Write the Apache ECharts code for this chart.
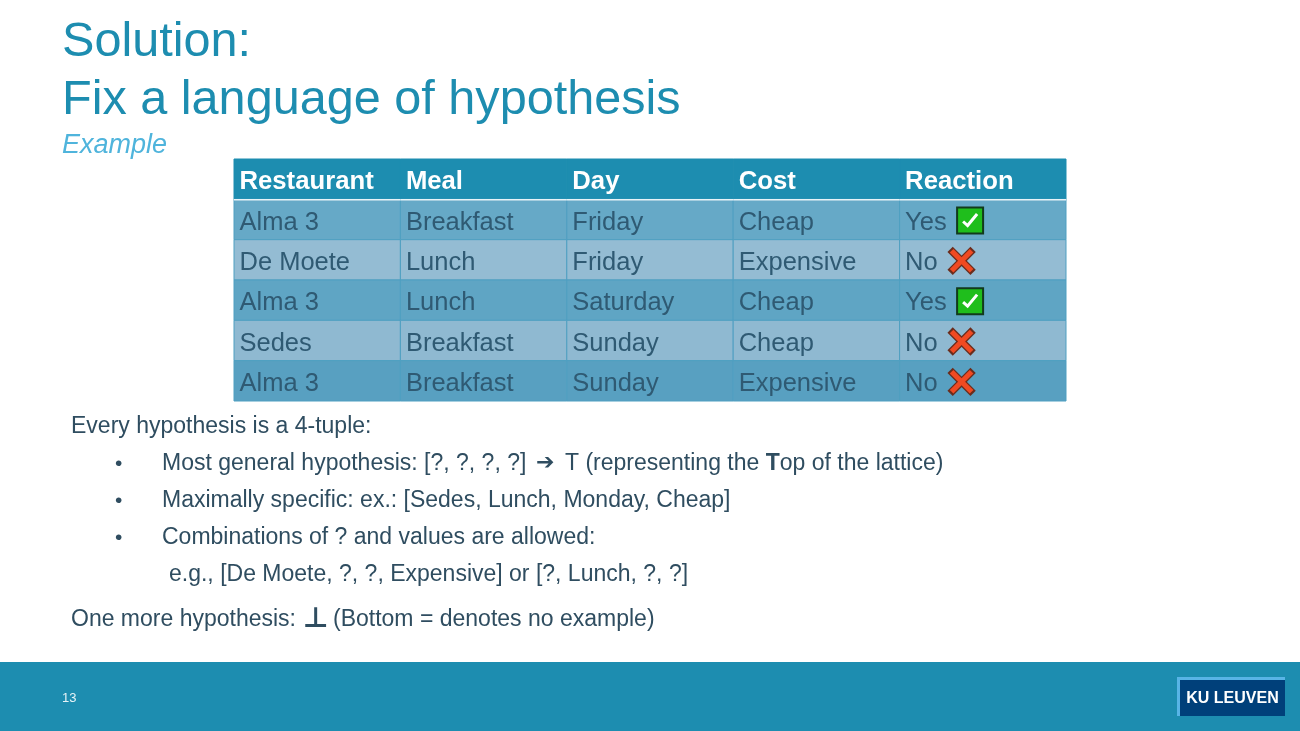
<!DOCTYPE html>
<html>
<head>
<meta charset="utf-8">
<style>
html, body { margin: 0; padding: 0; background: #fff; }
#chart { width: 1300px; height: 731px; }
</style>
<script src="https://cdn.jsdelivr.net/npm/echarts@6/dist/echarts.min.js"></script>
</head>
<body>
<div id="chart"></div>
<script>
const columns = ['Restaurant', 'Meal', 'Day', 'Cost', 'Reaction']
const restaurants = ['Alma 3', 'De Moete', 'Alma 3', 'Sedes', 'Alma 3']
const meals = ['Breakfast', 'Lunch', 'Lunch', 'Breakfast', 'Breakfast']
const days = ['Friday', 'Friday', 'Saturday', 'Sunday', 'Sunday']
const costs = ['Cheap', 'Expensive', 'Cheap', 'Cheap', 'Expensive']
const reactions = ['Yes', 'No', 'Yes', 'No', 'No']

const FONT = '"Liberation Sans", Arial, sans-serif'
const TEXT = '#2f4d60'
const CELL_TEXT = '#2f5a73'
const BAND = '#1d8db0'
const BODY = 23
const rowFills = ['#1d8db0', '#66a9c7', '#94bcd3', '#5fa5c4', '#8fb9d1', '#58a0c1']

const rowNames = ['header', 'r1', 'r2', 'r3', 'r4', 'r5']
const cells = []
columns.forEach((c, x) => { cells.push([x, 0, c]) })
;[restaurants, meals, days, costs, reactions].forEach((list, x) => {
  list.forEach((v, i) => { cells.push([x, i + 1, v]) })
})

function renderCell (params, api) {
  const x = api.value(0)
  const y = api.value(1)
  const val = api.value(2)
  const c = api.coord([x, y])
  const s = api.size([1, 1])
  const left = c[0] - s[0] / 2
  const top = c[1] - s[1] / 2
  const kids = [{
    type: 'rect',
    shape: { x: left, y: top, width: s[0], height: s[1] },
    style: { fill: rowFills[y], stroke: y === 0 ? '#1d8db0' : '#4f9fc1', lineWidth: 1 }
  }, {
    type: 'text',
    style: {
      x: left + 5.5,
      y: c[1] + (y === 0 ? 3 : 3),
      text: val,
      fill: y === 0 ? '#fff' : CELL_TEXT,
      font: (y === 0 ? 'bold ' : '') + (y === 0 ? '25.7px ' : '25.5px ') + FONT,
      verticalAlign: 'middle'
    }
  }]
  if (y === 1) {
    kids.push({
      type: 'line',
      shape: { x1: left, y1: top + 0.5, x2: left + s[0], y2: top + 0.5 },
      style: { stroke: '#e8f3f7', lineWidth: 1.5 },
      z2: 5
    })
  }
  if (x === 4 && y > 0) {
    const cy = c[1] + 1
    if (val === 'Yes') {
      const bx = left + 57.5
      kids.push({
        type: 'rect',
        shape: { x: bx, y: cy - 13, width: 26, height: 26 },
        style: { fill: '#1fbe1c', stroke: '#123a1c', lineWidth: 2 },
        z2: 6
      }, {
        type: 'polyline',
        shape: { points: [[bx + 6, cy + 1], [bx + 10.5, cy + 5], [bx + 20, cy - 6.5]] },
        style: { stroke: '#fff', lineWidth: 3, fill: 'none' },
        z2: 7
      })
    } else {
      const cx = left + 62
      ;[['#6b2c1c', 7.5, 6, 11.5], ['#f04a22', 5, 7, 10]].forEach(p => {
        kids.push({
          type: 'line',
          shape: { x1: cx - p[3], y1: cy - p[3], x2: cx + p[3], y2: cy + p[3] },
          style: { stroke: p[0], lineWidth: p[1] },
          z2: p[2]
        }, {
          type: 'line',
          shape: { x1: cx + p[3], y1: cy - p[3], x2: cx - p[3], y2: cy + p[3] },
          style: { stroke: p[0], lineWidth: p[1] },
          z2: p[2]
        })
      })
    }
  }
  return { type: 'group', children: kids }
}

function label (x, y, text, size, extra) {
  return {
    type: 'text',
    x: x,
    y: y,
    silent: true,
    style: Object.assign({
      text: text,
      fill: TEXT,
      font: size + 'px ' + FONT,
      verticalAlign: 'middle'
    }, extra || {})
  }
}

const slideText = [
  { type: 'rect', shape: { x: 0, y: 662, width: 1300, height: 69 }, style: { fill: BAND } },
  label(62, 43, 'Solution:', 48.6, { fill: BAND }),
  label(62, 101, 'Fix a language of hypothesis', 48.6, { fill: BAND }),
  label(62, 145, 'Example', 27, { fill: '#4fb4dc', font: 'italic 27px ' + FONT }),
  label(71, 427, 'Every hypothesis is a 4-tuple:', BODY),
  label(115, 464, '•', 21),
  label(162, 464, 'Most general hypothesis: [?, ?, ?, ?]', BODY),
  label(536, 463, '➔', 22, { font: 'bold 22px "DejaVu Sans"' }),
  label(565, 464, 'T (representing the {b|T}op of the lattice)', BODY, {
    rich: { b: { font: 'bold ' + BODY + 'px ' + FONT, fill: TEXT } }
  }),
  label(115, 501, '•', 21),
  label(162, 501, 'Maximally specific: ex.: [Sedes, Lunch, Monday, Cheap]', BODY),
  label(115, 538, '•', 21),
  label(162, 538, 'Combinations of ? and values are allowed:', BODY),
  label(169, 575, 'e.g., [De Moete, ?, ?, Expensive] or [?, Lunch, ?, ?]', BODY),
  label(71, 620, 'One more hypothesis:', BODY),
  label(303, 620, '⊥', 28, { font: 'bold 28px "DejaVu Sans"' }),
  label(333, 620, '(Bottom = denotes no example)', BODY),
  label(62, 698, '13', 13, { fill: '#e6f3f7' }),
  { type: 'rect', shape: { x: 1177, y: 677, width: 108, height: 39 }, style: { fill: '#58b4e6' } },
  { type: 'rect', shape: { x: 1180, y: 680, width: 105, height: 36 }, style: { fill: '#00407a' } },
  label(1232.5, 698.5, 'KU LEUVEN', 16, { fill: '#fff', font: 'bold 16px ' + FONT, align: 'center' })
]

const chart = echarts.init(document.getElementById('chart'), null, { renderer: 'canvas' })
chart.setOption({
  animation: false,
  backgroundColor: '#fff',
  grid: { left: 234, top: 159, width: 832, height: 242 },
  xAxis: { type: 'category', data: columns, show: false },
  yAxis: { type: 'category', data: rowNames, inverse: true, show: false },
  graphic: { elements: slideText },
  series: [{
    type: 'custom',
    coordinateSystem: 'cartesian2d',
    renderItem: renderCell,
    encode: { x: 0, y: 1 },
    silent: true,
    data: cells
  }]
})
</script>
</body>
</html>
